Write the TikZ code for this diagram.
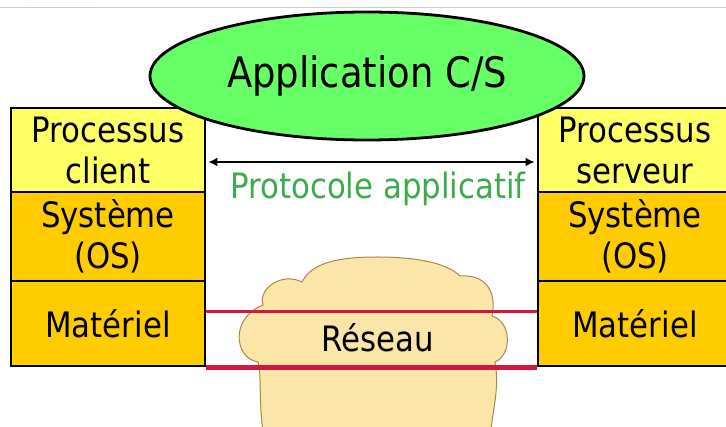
\documentclass[tikz,border=0pt]{standalone}
\usepackage{fontspec}
\setmainfont{DejaVu Sans}[FakeStretch=0.88]
\usetikzlibrary{arrows.meta,shapes.geometric}
\definecolor{lightyel}{HTML}{FFFF66}
\definecolor{goldc}{HTML}{FFCC00}
\definecolor{appgreen}{HTML}{66FF66}
\definecolor{protogreen}{HTML}{3DAA4C}
\definecolor{cloudfill}{HTML}{FCE5A9}
\definecolor{cloudline}{HTML}{A8894A}
\definecolor{netred}{HTML}{D3173F}
\begin{document}
\begin{tikzpicture}[x=1pt,y=-1pt,
  layer/.style={draw=black, line width=2.8pt, minimum width=194pt, inner sep=0pt,
    align=center, font=\fontsize{35}{41}\selectfont},
  redline/.style={draw=netred},
  lbl/.style={inner sep=0pt, font=\fontsize{35}{41}\selectfont}]
\useasboundingbox (0,0) rectangle (726,427);
\clip (0,0) rectangle (726,427);
% screenshot edge
\draw[black!18, line width=1pt] (0,7.5) -- (726,7.5);
\draw[blue!25!black!20, line width=1pt] (25,7.5) -- (100,7.5);
% left stack
\node[layer, fill=lightyel, minimum height=84pt] (cp) at (108,150) {Processus\\client};
\node[layer, fill=goldc, minimum height=89pt] (sc) at (108,236.5) {Système\\(OS)};
\node[layer, fill=goldc, minimum height=85pt] (mc) at (108,323.5) {Matériel};
% right stack
\node[layer, fill=lightyel, minimum height=84pt] (cs) at (635,150) {Processus\\serveur};
\node[layer, fill=goldc, minimum height=89pt] (ss) at (635,236.5) {Système\\(OS)};
\node[layer, fill=goldc, minimum height=85pt] (ms) at (635,323.5) {Matériel};
% cloud
\draw[cloudline, fill=cloudfill, line width=1pt]
  (264,440) .. controls (258,400) and (262,375) .. (258,362)
  .. controls (234,358) and (230,318) .. (263,305)
  .. controls (258,288) and (282,272) .. (302,282)
  .. controls (312,262) and (340,257) .. (377,257)
  .. controls (420,257) and (448,264) .. (460,276)
  .. controls (486,274) and (497,292) .. (492,316)
  .. controls (512,322) and (512,355) .. (495,362)
  .. controls (500,390) and (492,410) .. (490,440) -- cycle;
\draw[redline, line width=2.5pt] ([yshift=-32pt]mc.north east) -- ([yshift=-32pt]ms.north west);
\draw[redline, line width=5pt] (mc.south east) -- (ms.south west);
\node[lbl] (net) at (378,338) {Réseau};
% protocol
\draw[{Latex[length=9pt,width=9pt]}-{Latex[length=9pt,width=9pt]}, line width=2.5pt]
  ([xshift=2pt,yshift=-12pt]cp.east) -- ([xshift=-2pt,yshift=-12pt]cs.west);
\node[lbl, text=protogreen] (proto) at (378,189) {Protocole applicatif};
% application ellipse
\node[ellipse, draw=black, line width=2.8pt, fill=appgreen, minimum width=434pt,
  minimum height=128pt, inner sep=0pt, font=\fontsize{42}{48}\selectfont] (app) at (367,76) {Application C/S};
\end{tikzpicture}
\end{document}
